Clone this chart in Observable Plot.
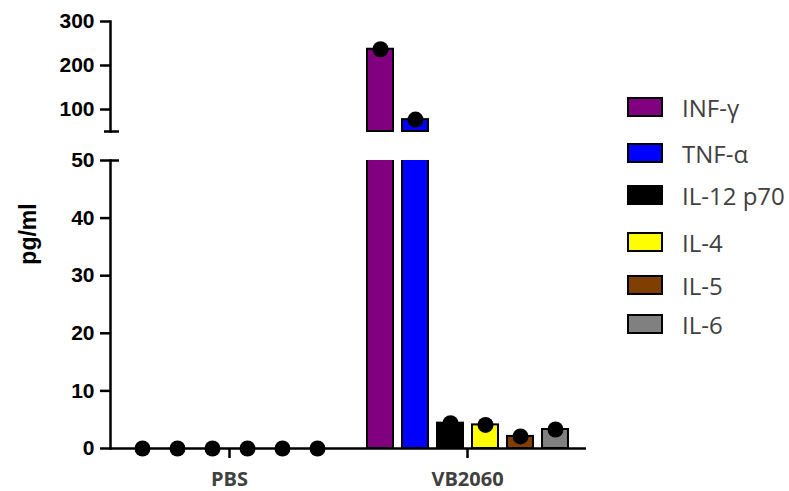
<!DOCTYPE html>
<html><head><meta charset="utf-8">
<script src="https://cdn.jsdelivr.net/npm/d3@7"></script>
<script src="https://cdn.jsdelivr.net/npm/@observablehq/plot@0.6"></script>
<style>
body{margin:0;background:#fff;}
#chart{position:relative;width:789px;height:491px;overflow:hidden;font-family:"Liberation Sans",Arial,sans-serif;}
#top{position:absolute;left:0;top:0;}
#bottom{position:absolute;left:0;top:145px;}
#ylabel{position:absolute;left:28px;top:234px;transform:translate(-50%,-50%) rotate(-90deg);font:bold 23px "Liberation Sans",Arial,sans-serif;white-space:nowrap;color:#000;}
#legend{position:absolute;left:627px;top:0;}
.item{position:absolute;left:0;display:flex;align-items:center;white-space:nowrap;height:20px;}
.item:nth-child(1){top:97px;}
.item:nth-child(2){top:143px;}
.item:nth-child(3){top:185px;}
.item:nth-child(4){top:232px;}
.item:nth-child(5){top:275px;}
.item:nth-child(6){top:314px;}
.sw{width:32px;height:16px;border:2px solid #000;}
.lab{margin-left:19px;font:24px "Open Sans",sans-serif;color:#404040;}
</style></head>
<body><div id="chart"><div id="top"></div><div id="bottom"></div><div id="ylabel">pg/ml</div><div id="legend"></div></div>
<script>
const groups = ["PBS", "VB2060"];
const cytokines = ["INF-γ", "TNF-α", "IL-12 p70", "IL-4", "IL-5", "IL-6"];
const pbsValues = [0, 0, 0, 0, 0, 0];
const vb2060Values = [237, 77, 4.4, 4.1, 2.1, 3.3];
const colors = ["#800080", "#0000ff", "#000000", "#ffff00", "#7f3f00", "#808080"];
const topTicks = [100, 200, 300];
const bottomTicks = [0, 10, 20, 30, 40, 50];
const breakValue = 50;
const topMax = 300;

const rows = [];
groups.forEach((g, gi) => {
  const vals = gi === 0 ? pbsValues : vb2060Values;
  cytokines.forEach((c, i) => rows.push({group: g, cytokine: c, value: vals[i]}));
});

const common = {
  width: 600, marginLeft: 109, marginRight: 14,
  x: {domain: cytokines, paddingInner: 0.27, paddingOuter: 0.5, axis: null},
  color: {domain: cytokines, range: colors},
  style: {fontFamily: "'Liberation Sans', Arial, sans-serif", fontSize: "21px", color: "black", overflow: "visible", background: "transparent"}
};
const axisFont = {fontSize: 21, fontWeight: "bold", fontFamily: "'Liberation Sans', Arial, sans-serif", fill: "black"};
const leftOnly = {facetAnchor: "left", strokeWidth: 2.5, label: null};

const topPlot = Plot.plot({
  ...common,
  height: 140, marginTop: 21, marginBottom: 9,
  fx: {domain: groups, padding: 0, axis: null},
  y: {domain: [breakValue, topMax]},
  marks: [
    Plot.barY(rows.filter(d => d.value > breakValue), {fx: "group", x: "cytokine", y1: breakValue, y2: "value", fill: "cytokine", stroke: "black", strokeWidth: 2}),
    Plot.frame({anchor: "left", facetAnchor: "left", strokeWidth: 2.5}),
    Plot.axisY({ticks: topTicks, tickSize: 10, tickPadding: 6, ...leftOnly, ...axisFont}),
    Plot.axisY({ticks: [breakValue], tickSize: 6, text: null, ...leftOnly}),
    Plot.axisY({ticks: [breakValue], tickSize: -9, text: null, ...leftOnly}),
    Plot.dot(rows.filter(d => d.value > breakValue), {fx: "group", x: "cytokine", y: "value", r: 8, fill: "black"})
  ]
});
document.getElementById("top").appendChild(topPlot);

const bottomPlot = Plot.plot({
  ...common,
  height: 346, marginTop: 15, marginBottom: 43,
  fx: {domain: groups, padding: 0, label: null},
  y: {domain: [0, breakValue]},
  marks: [
    Plot.barY(rows, {fx: "group", x: "cytokine", y: "value", fill: "cytokine", stroke: "black", strokeWidth: 2, clip: true}),
    Plot.ruleY([0], {stroke: "black", strokeWidth: 2.5}),
    Plot.frame({anchor: "left", facetAnchor: "left", strokeWidth: 2.5}),
    Plot.axisY({ticks: bottomTicks, tickSize: 10, tickPadding: 6, ...leftOnly, ...axisFont}),
    Plot.axisY({ticks: [breakValue], tickSize: -9, text: null, ...leftOnly}),
    Plot.axisFx({anchor: "bottom", tickSize: 10, tickPadding: 13, strokeWidth: 2.5, label: null, fontSize: 20, fontWeight: "bold", fontFamily: "'Open Sans', sans-serif", fill: "#404040"}),
    Plot.dot(rows.filter(d => d.value <= breakValue), {fx: "group", x: "cytokine", y: "value", r: 8, fill: "black"})
  ]
});
document.getElementById("bottom").appendChild(bottomPlot);

const legend = document.getElementById("legend");
cytokines.forEach((c, i) => {
  const it = document.createElement("div");
  it.className = "item";
  const sw = document.createElement("div");
  sw.className = "sw";
  sw.style.background = colors[i];
  const lab = document.createElement("span");
  lab.className = "lab";
  lab.textContent = c;
  it.appendChild(sw);
  it.appendChild(lab);
  legend.appendChild(it);
});
</script>
</body></html>
